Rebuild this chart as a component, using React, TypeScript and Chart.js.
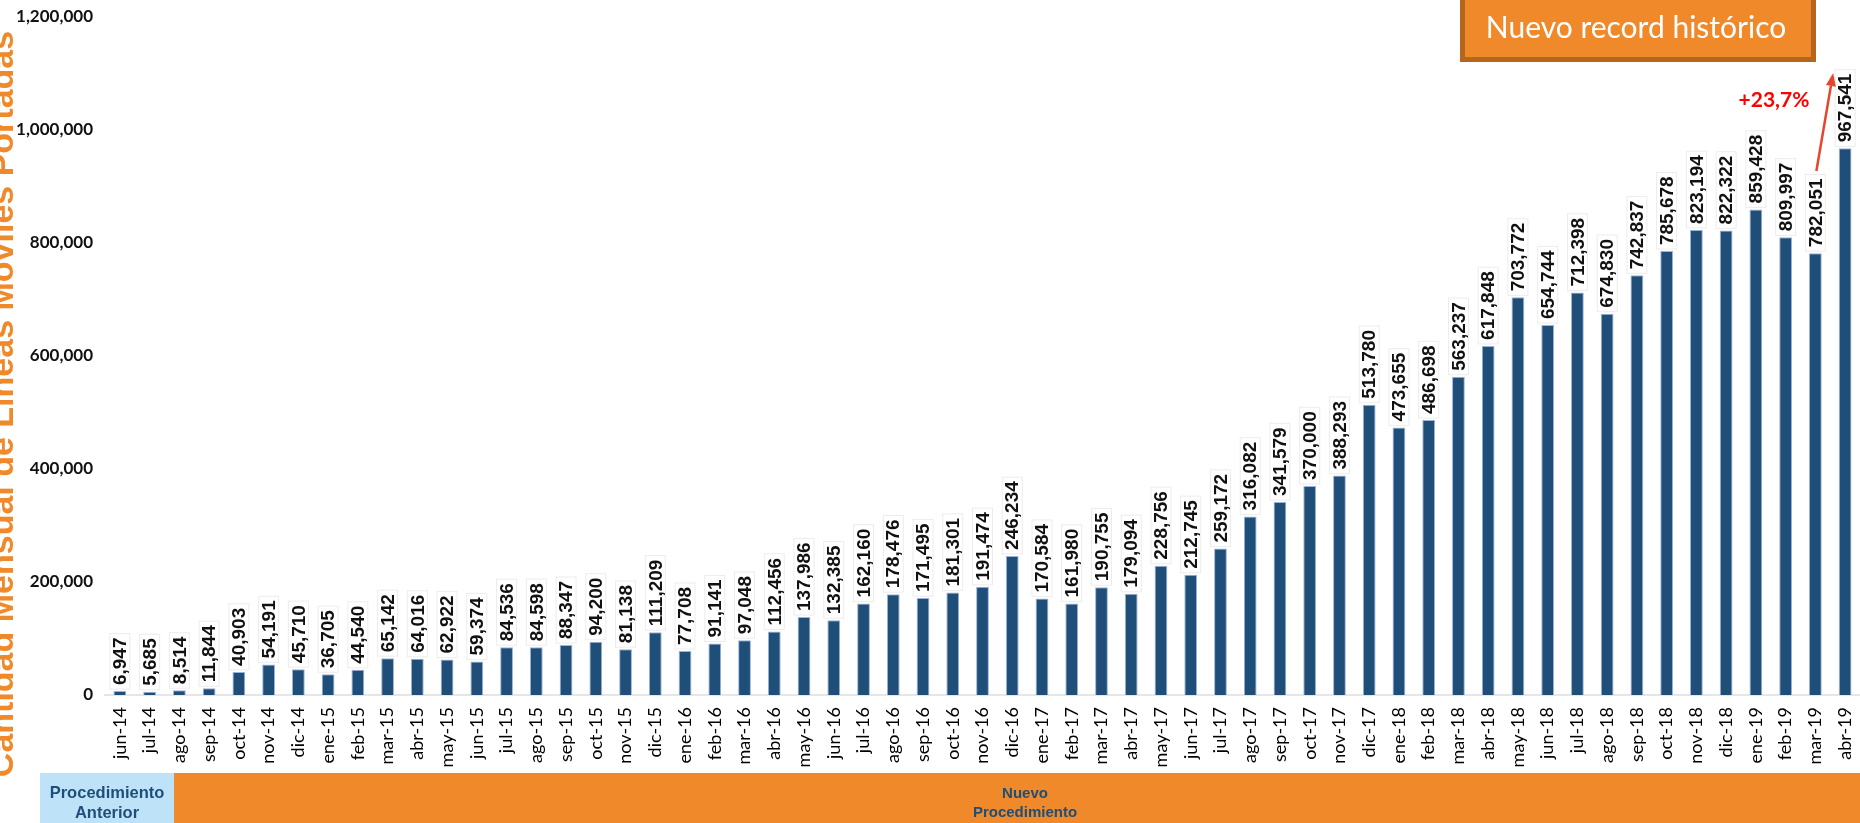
import React, { useEffect, useRef } from "react";
import { Chart, registerables } from "chart.js";

Chart.register(...registerables);

const categories = [
  "jun-14", "jul-14", "ago-14", "sep-14", "oct-14", "nov-14", "dic-14",
  "ene-15", "feb-15", "mar-15", "abr-15", "may-15", "jun-15", "jul-15", "ago-15", "sep-15", "oct-15", "nov-15", "dic-15",
  "ene-16", "feb-16", "mar-16", "abr-16", "may-16", "jun-16", "jul-16", "ago-16", "sep-16", "oct-16", "nov-16", "dic-16",
  "ene-17", "feb-17", "mar-17", "abr-17", "may-17", "jun-17", "jul-17", "ago-17", "sep-17", "oct-17", "nov-17", "dic-17",
  "ene-18", "feb-18", "mar-18", "abr-18", "may-18", "jun-18", "jul-18", "ago-18", "sep-18", "oct-18", "nov-18", "dic-18",
  "ene-19", "feb-19", "mar-19", "abr-19",
];

const portadas = [
  6947, 5685, 8514, 11844, 40903, 54191, 45710,
  36705, 44540, 65142, 64016, 62922, 59374, 84536, 84598, 88347, 94200, 81138, 111209,
  77708, 91141, 97048, 112456, 137986, 132385, 162160, 178476, 171495, 181301, 191474, 246234,
  170584, 161980, 190755, 179094, 228756, 212745, 259172, 316082, 341579, 370000, 388293, 513780,
  473655, 486698, 563237, 617848, 703772, 654744, 712398, 674830, 742837, 785678, 823194, 822322,
  859428, 809997, 782051, 967541,
];

const yTickValues = [0, 200000, 400000, 600000, 800000, 1000000, 1200000];
const yAxisTitle = "Cantidad Mensual de Líneas Móviles Portadas";
const recordText = "Nuevo record histórico";
const growthText = "+23,7%";
const bandLeftLines = ["Procedimiento", "Anterior"];
const bandRightLines = ["Nuevo", "Procedimiento"];

const fmt = (v: number) => Math.round(v).toLocaleString("en-US");

const ORANGE = "#F0892A";
const BAR = "#1F4E79";
const BAR_EDGE = "#9AB3D8";

const valueLabelsPlugin = {
  id: "valueLabels",
  afterDatasetsDraw(chart: any) {
    const ctx = chart.ctx;
    const meta = chart.getDatasetMeta(0);
    const data = chart.data.datasets[0].data as number[];
    ctx.save();
    ctx.font = "bold 19px 'Liberation Sans', Arial, sans-serif";
    meta.data.forEach((el: any, i: number) => {
      const txt = fmt(data[i]);
      const w = ctx.measureText(txt).width;
      const x = el.x;
      const y = el.y - 6;
      ctx.save();
      ctx.translate(x, y);
      ctx.rotate(-Math.PI / 2);
      ctx.fillStyle = "#ffffff";
      ctx.strokeStyle = "#ececec";
      ctx.lineWidth = 1;
      ctx.fillRect(-4, -10, w + 8, 20);
      ctx.strokeRect(-4, -10, w + 8, 20);
      ctx.fillStyle = "#111111";
      ctx.textAlign = "left";
      ctx.textBaseline = "middle";
      ctx.fillText(txt, 0, 1);
      ctx.restore();
    });
    ctx.restore();
  },
};

const decorPlugin = {
  id: "decor",
  afterDraw(chart: any) {
    const ctx = chart.ctx;
    ctx.save();

    // y-axis title (partially cut off at the left edge)
    ctx.save();
    ctx.translate(13, 404);
    ctx.rotate(-Math.PI / 2);
    ctx.fillStyle = ORANGE;
    ctx.font = "bold 34px 'Liberation Sans', Arial, sans-serif";
    ctx.textAlign = "center";
    ctx.textBaseline = "alphabetic";
    ctx.fillText(yAxisTitle, 0, 0);
    ctx.restore();

    // bottom bands
    const bandTop = 773;
    const bandBottom = 823;
    ctx.fillStyle = "#BEE3F8";
    ctx.fillRect(40, bandTop, 134, bandBottom - bandTop);
    ctx.fillStyle = ORANGE;
    ctx.fillRect(174, bandTop, 1860 - 174, bandBottom - bandTop);

    ctx.fillStyle = "#1F4E79";
    ctx.textAlign = "center";
    ctx.textBaseline = "middle";
    ctx.font = "bold 16.5px 'Liberation Sans', Arial, sans-serif";
    ctx.fillText(bandLeftLines[0], 107, 793);
    ctx.fillText(bandLeftLines[1], 107, 813);
    ctx.font = "bold 15px 'Liberation Sans Narrow', 'Liberation Sans', Arial, sans-serif";
    ctx.fillText(bandRightLines[0], 1025, 794);
    ctx.fillText(bandRightLines[1], 1025, 813);

    // record box
    ctx.fillStyle = "#B5651D";
    ctx.fillRect(1460, -6, 356, 68);
    ctx.fillStyle = ORANGE;
    ctx.fillRect(1465, -6, 346, 63);
    ctx.fillStyle = "#ffffff";
    ctx.font = "30px Lato, 'Open Sans', sans-serif";
    ctx.textAlign = "center";
    ctx.textBaseline = "alphabetic";
    ctx.fillText(recordText, 1636, 38);

    // growth label
    ctx.fillStyle = "#FF0000";
    ctx.font = "bold 21px Lato, 'Liberation Sans', sans-serif";
    ctx.textAlign = "center";
    ctx.fillText(growthText, 1774, 107);

    // arrow from mar-19 label to abr-19
    const meta = chart.getDatasetMeta(0);
    const n = meta.data.length;
    const xFrom = meta.data[n - 2].x + 1;
    const xTo = meta.data[n - 1].x - 12;
    const yFrom = 171;
    const yTo = 73;
    ctx.strokeStyle = "#E5472E";
    ctx.fillStyle = "#E5472E";
    ctx.lineWidth = 2.5;
    const ang = Math.atan2(yTo - yFrom, xTo - xFrom);
    const headLen = 13;
    const bx = xTo - headLen * Math.cos(ang);
    const by = yTo - headLen * Math.sin(ang);
    ctx.beginPath();
    ctx.moveTo(xFrom, yFrom);
    ctx.lineTo(bx, by);
    ctx.stroke();
    ctx.beginPath();
    ctx.moveTo(xTo, yTo);
    ctx.lineTo(bx + 5 * Math.cos(ang + Math.PI / 2), by + 5 * Math.sin(ang + Math.PI / 2));
    ctx.lineTo(bx + 5 * Math.cos(ang - Math.PI / 2), by + 5 * Math.sin(ang - Math.PI / 2));
    ctx.closePath();
    ctx.fill();

    ctx.restore();
  },
};

export default function App() {
  const canvasRef = useRef<HTMLCanvasElement | null>(null);

  useEffect(() => {
    document.body.style.margin = "0";
    document.body.style.overflow = "hidden";
    const canvas = canvasRef.current;
    if (!canvas) return;
    const chart = new Chart(canvas, {
      type: "bar",
      data: {
        labels: categories,
        datasets: [
          {
            label: "Líneas portadas",
            data: portadas,
            backgroundColor: BAR,
            borderColor: BAR_EDGE,
            borderWidth: 1,
            barPercentage: 0.43,
            categoryPercentage: 1,
          },
        ],
      },
      options: {
        responsive: false,
        maintainAspectRatio: false,
        animation: false,
        layout: { padding: { top: 17, right: 0, bottom: 0, left: 0 } },
        plugins: {
          legend: { display: false },
          tooltip: { enabled: false },
          title: { display: false },
        },
        scales: {
          x: {
            grid: { display: false, drawTicks: false },
            border: { display: true, color: "#E6E6E6", width: 2 },
            ticks: {
              autoSkip: false,
              maxRotation: 90,
              minRotation: 90,
              padding: 12,
              color: "#000000",
              font: { family: "Lato, 'Open Sans', sans-serif", size: 18 },
            },
            afterFit(scale: any) {
              scale.height = 128;
              scale.paddingLeft = 0;
              scale.paddingRight = 0;
            },
          },
          y: {
            min: 0,
            max: 1200000,
            grid: { display: false, drawTicks: false },
            border: { display: false },
            afterBuildTicks(scale: any) {
              scale.ticks = yTickValues.map((v) => ({ value: v }));
            },
            ticks: {
              stepSize: 200000,
              padding: 12,
              color: "#111111",
              font: { family: "Lato, 'Open Sans', sans-serif", size: 17, weight: "bold" },
              callback: (v: any) => fmt(Number(v)),
            },
            afterFit(scale: any) {
              scale.width = 105;
              scale.paddingTop = 0;
              scale.paddingBottom = 0;
            },
          },
        },
      },
      plugins: [valueLabelsPlugin, decorPlugin],
    });
    return () => chart.destroy();
  }, []);

  return (
    <div style={{ width: 1860, height: 823, position: "relative", overflow: "hidden" }}>
      <canvas ref={canvasRef} width={1860} height={823} style={{ display: "block" }} />
    </div>
  );
}
